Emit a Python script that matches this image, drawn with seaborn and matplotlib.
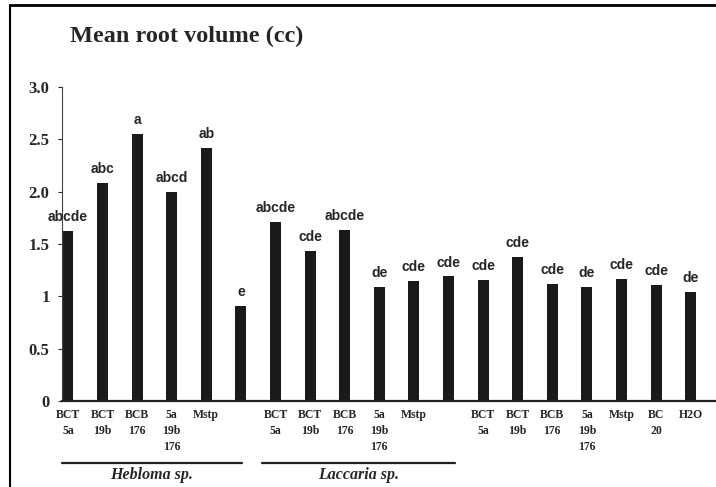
import numpy as np
import pandas as pd
import matplotlib
matplotlib.use("Agg")
import matplotlib.pyplot as plt
import seaborn as sns
from matplotlib.lines import Line2D

# ===== DATA =====
tick_labels = ["BCT\n5a", "BCT\n19b", "BCB\n176", "5a\n19b\n176", "Mstp", "",
               "BCT\n5a", "BCT\n19b", "BCB\n176", "5a\n19b\n176", "Mstp", "",
               "BCT\n5a", "BCT\n19b", "BCB\n176", "5a\n19b\n176", "Mstp", "BC\n20", "H2O"]
root_volume = [1.62, 2.08, 2.55, 2.00, 2.42, 0.91,
               1.71, 1.43, 1.63, 1.09, 1.15, 1.19,
               1.16, 1.38, 1.12, 1.09, 1.17, 1.11, 1.04]
letters = ["abcde", "abc", "a", "abcd", "ab", "e",
           "abcde", "cde", "abcde", "de", "cde", "cde",
           "cde", "cde", "cde", "de", "cde", "cde", "de"]
groups = ["Hebloma sp.", "Laccaria sp."]
group_spans = [(-0.17, 5.03), (5.6, 11.18)]

df = pd.DataFrame({"pos": range(len(root_volume)), "volume": root_volume})

# ===== PLOT =====
sns.set_style("white")
plt.rcParams["font.family"] = ["Liberation Serif", "DejaVu Serif"]

fig = plt.figure(figsize=(7.16, 4.87), dpi=100)
ax = fig.add_axes([62 / 716, 86 / 487, 654 / 716, 314 / 487])

sns.barplot(data=df, x="pos", y="volume", color="#1a1a1a", width=0.32,
            saturation=1, ax=ax, linewidth=0)

ax.set_xlim(-0.17, 18.73)
ax.set_ylim(0, 3.0)
ax.set_yticks([0, 0.5, 1, 1.5, 2.0, 2.5, 3.0])
ax.set_yticklabels(["0", "0.5", "1", "1.5", "2.0", "2.5", "3.0"],
                   fontsize=12, fontweight="bold")
ax.set_xticks(range(len(tick_labels)))
ax.set_xticklabels(tick_labels, fontsize=8.5, fontweight="bold", va="top",
                   linespacing=1.45)
ax.tick_params(axis="x", length=0, pad=6)
ax.tick_params(axis="y", length=3, width=0.8, direction="out", pad=6, left=True)
ax.set_xlabel("")
ax.set_ylabel("")

for s in ["top", "right"]:
    ax.spines[s].set_visible(False)
ax.spines["left"].set_linewidth(0.8)
ax.spines["left"].set_color("#444444")
ax.spines["bottom"].set_linewidth(1.6)
ax.spines["bottom"].set_color("#222222")

# significance letters
for i, (v, t) in enumerate(zip(root_volume, letters)):
    ax.annotate(t, (i, v), xytext=(0, 5), textcoords="offset points",
                ha="center", va="bottom", fontsize=10, fontweight="bold",
                family=["Liberation Sans", "DejaVu Sans"])

# group lines under the axis
tr = ax.get_xaxis_transform()
for name, (x0, x1) in zip(groups, group_spans):
    ax.plot([x0, x1], [-0.197, -0.197], color="#222222", lw=1.6,
            transform=tr, clip_on=False)
    ax.text((x0 + x1) / 2, -0.236, name, transform=tr, ha="center", va="center",
            fontsize=11.5, fontweight="bold", style="italic")

fig.text(70 / 716, 1 - 36 / 487, "Mean root volume (cc)", fontsize=17.5,
         fontweight="bold", ha="left", va="center")

# frame of the scanned figure
fig.add_artist(Line2D([10 / 716, 10 / 716], [0, 1 - 5 / 487], color="black", lw=1.5))
fig.add_artist(Line2D([10 / 716, 1], [1 - 5 / 487, 1 - 5 / 487], color="black", lw=2))

fig.savefig("out.png", dpi=100)
